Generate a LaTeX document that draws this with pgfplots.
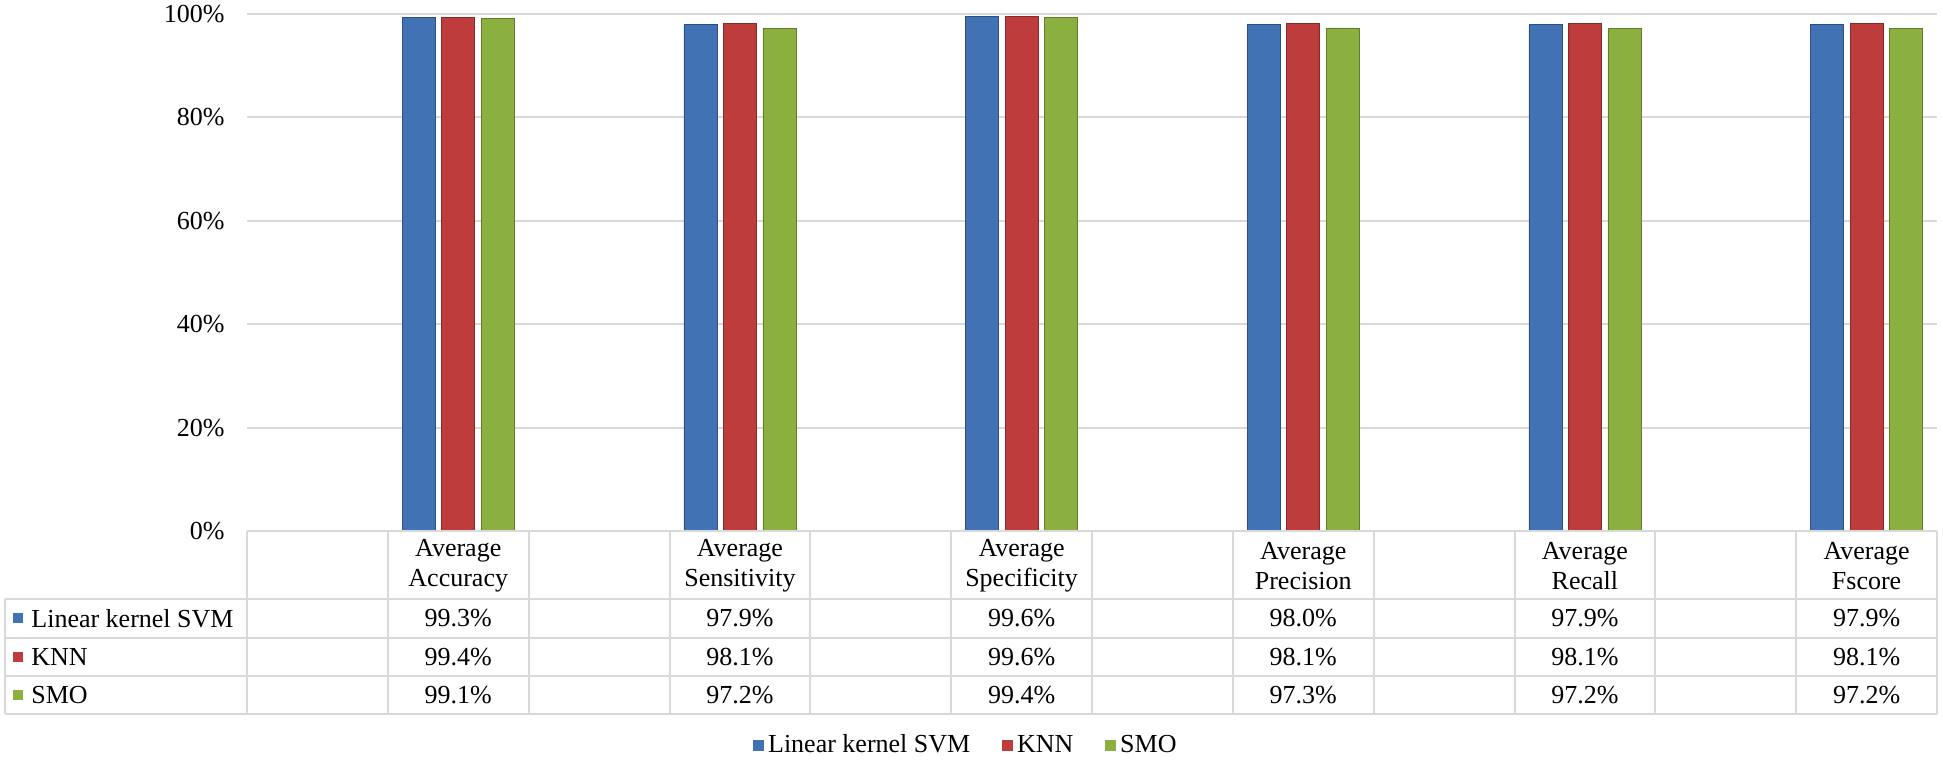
\documentclass[border=0pt]{standalone}
\usepackage{fontspec}
\setmainfont{Liberation Serif}
\usepackage{pgfplots}
\pgfplotsset{compat=1.18}
\definecolor{cblue}{RGB}{64,114,180}
\definecolor{cred}{RGB}{190,60,60}
\definecolor{cgreen}{RGB}{140,176,64}
\definecolor{gridgray}{RGB}{217,217,217}
\newcommand{\tfont}{\fontsize{13}{15}\selectfont}
\begin{document}
\begin{tikzpicture}
\useasboundingbox (-123.5pt,-116pt) rectangle (848pt,265.5pt);
\begin{axis}[
 at={(0pt,0pt)}, anchor=south west,
 scale only axis, width=845pt, height=258.5pt,
 xmin=0, xmax=12, ymin=0, ymax=100,
 ybar=3.25pt, bar width=16.5pt,
 xtick=\empty,
 ytick={0,20,...,100},
 yticklabel={\pgfmathprintnumber{\tick}\%},
 /pgf/number format/assume math mode=true,
 ymajorgrids, grid style={gridgray, line width=1pt},
 axis line style={draw=none},
 major tick length=0pt,
 tick label style={font=\tfont},
 yticklabel style={inner sep=0pt, xshift=-11pt},
 clip=false,
 legend style={at={(0.426,-0.414)}, anchor=center, draw=none, fill=none,
   legend columns=-1, font=\tfont,
   /tikz/every even column/.append style={column sep=14pt}},
]
\addplot[fill=cblue, draw=cblue!70!black,
  legend image code/.code={\fill[cblue] (0pt,-2.5pt) rectangle (5pt,2.5pt);}]
  coordinates {(1.5,99.3) (3.5,97.9) (5.5,99.6) (7.5,98.0) (9.5,97.9) (11.5,97.9)};
\addplot[fill=cred, draw=cred!70!black,
  legend image code/.code={\fill[cred] (0pt,-2.5pt) rectangle (5pt,2.5pt);}]
  coordinates {(1.5,99.4) (3.5,98.1) (5.5,99.6) (7.5,98.1) (9.5,98.1) (11.5,98.1)};
\addplot[fill=cgreen, draw=cgreen!70!black,
  legend image code/.code={\fill[cgreen] (0pt,-2.5pt) rectangle (5pt,2.5pt);}]
  coordinates {(1.5,99.1) (3.5,97.2) (5.5,99.4) (7.5,97.3) (9.5,97.2) (11.5,97.2)};
\legend{Linear kernel SVM, KNN, SMO}
\end{axis}
% data table
\begin{scope}[gridgray, line width=1pt]
 \draw (0pt,0pt) -- (845pt,0pt);
 \foreach \yy in {-34,-53.5,-72.5,-91.5} \draw (-121pt,\yy pt) -- (845pt,\yy pt);
 \draw (-121pt,-34pt) -- (-121pt,-91.5pt);
 \foreach \k in {0,...,12} \draw ({\k*845/12*1pt},0pt) -- ({\k*845/12*1pt},-91.5pt);
\end{scope}
\foreach \j/\name in {0/Accuracy,1/Sensitivity,2/Specificity,3/Precision,4/Recall,5/Fscore}
  \node[font=\tfont, align=center, inner sep=0pt] at ({(2*\j+1.5)*845/12*1pt},-17.5pt) {Average\\\name};
\foreach \j/\v in {0/99.3,1/97.9,2/99.6,3/98.0,4/97.9,5/97.9}
  \node[font=\tfont, inner sep=0pt] at ({(2*\j+1.5)*845/12*1pt},-43.75pt) {\v\%};
\foreach \j/\v in {0/99.4,1/98.1,2/99.6,3/98.1,4/98.1,5/98.1}
  \node[font=\tfont, inner sep=0pt] at ({(2*\j+1.5)*845/12*1pt},-63pt) {\v\%};
\foreach \j/\v in {0/99.1,1/97.2,2/99.4,3/97.3,4/97.2,5/97.2}
  \node[font=\tfont, inner sep=0pt] at ({(2*\j+1.5)*845/12*1pt},-82pt) {\v\%};
\foreach \yy/\c/\name in {-43.75/cblue/Linear kernel SVM,-63/cred/KNN,-82/cgreen/SMO}{
  \fill[\c] (-117pt,\yy pt-2.5pt) rectangle (-112pt,\yy pt+2.5pt);
  \node[font=\tfont, anchor=west, inner sep=0pt] at (-108pt,\yy pt) {\name};
}
\end{tikzpicture}
\end{document}
